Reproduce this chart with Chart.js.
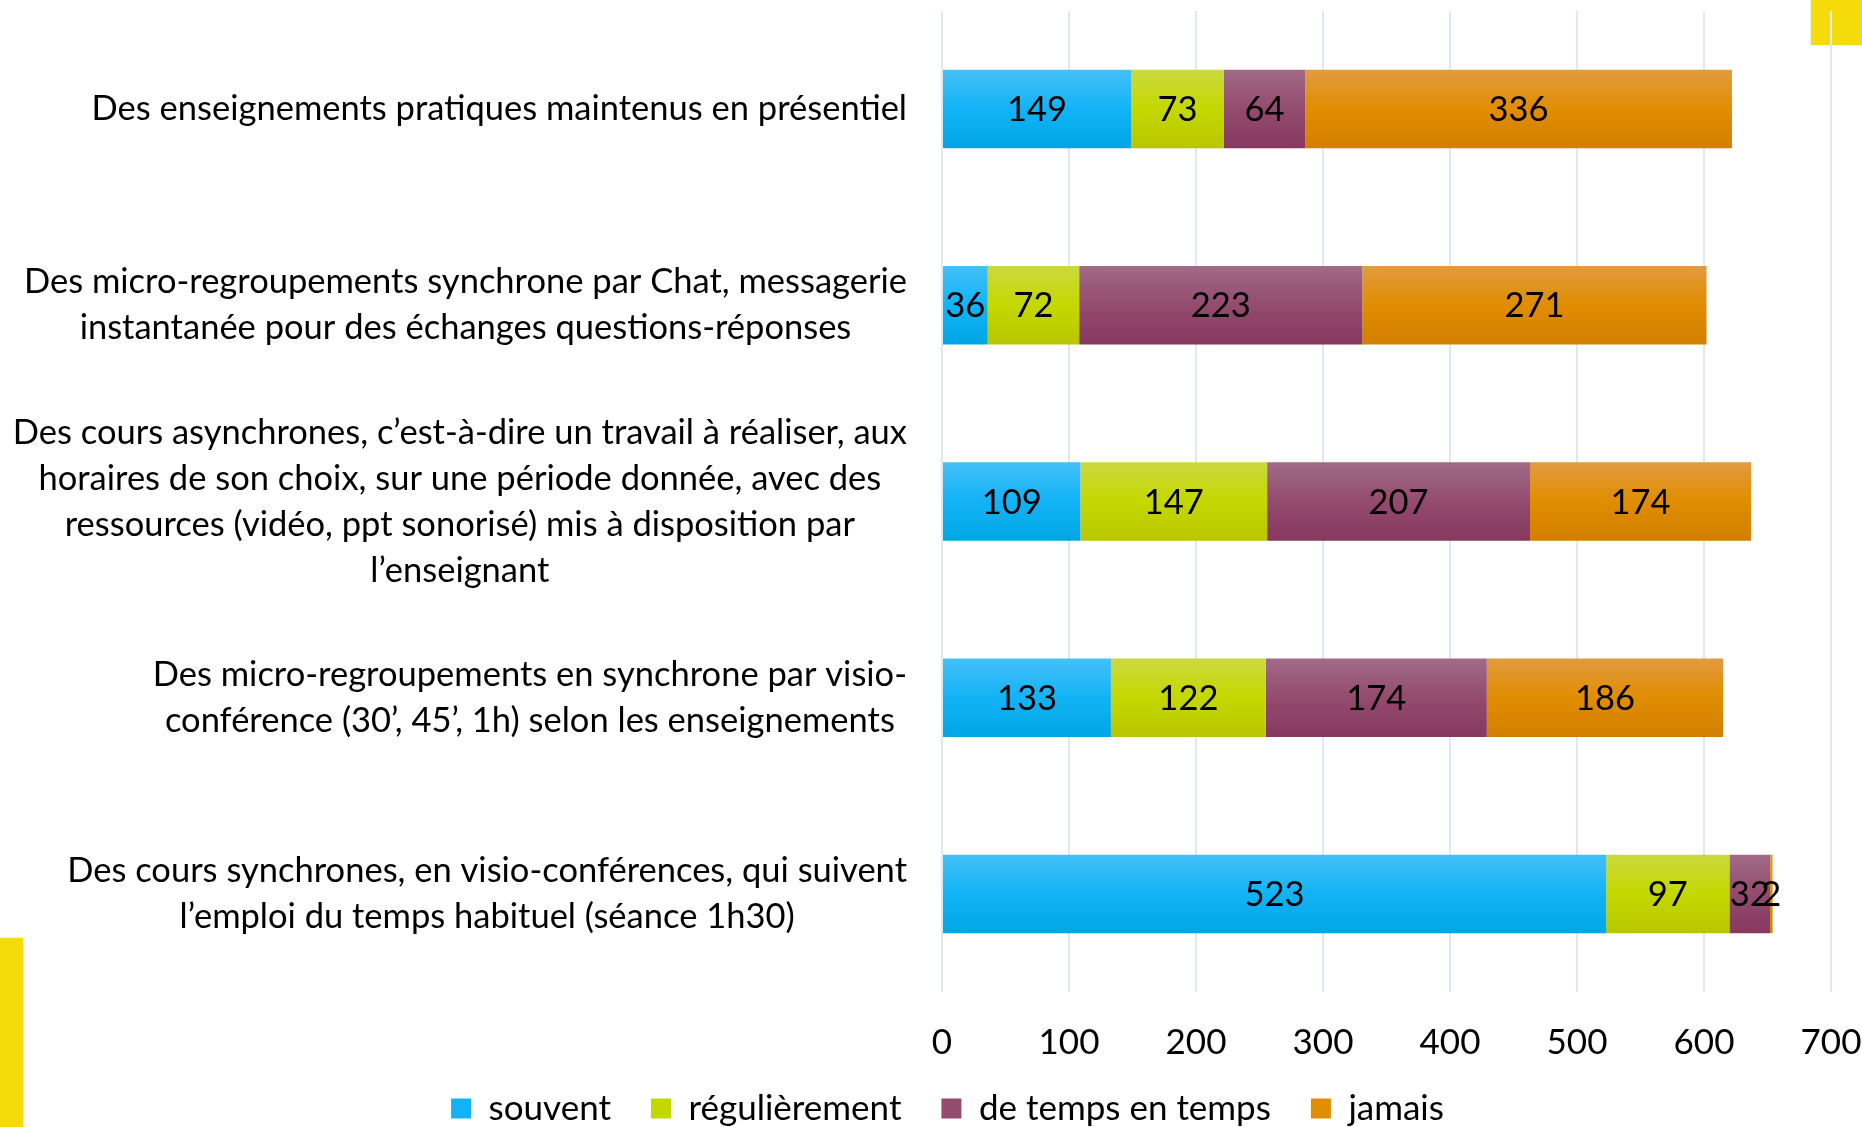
<!DOCTYPE html>
<html>
<head>
<meta charset="utf-8">
<script src="https://cdn.jsdelivr.net/npm/chart.js@4.4.1/dist/chart.umd.min.js"></script>
<style>
  html, body { margin: 0; padding: 0; background: #ffffff; }
  canvas { display: block; }
</style>
</head>
<body>
<canvas id="barChart" width="1862" height="1127"></canvas>
<script>
// category labels, one array of lines per bar
const categories = [
    ['Des enseignements pratiques maintenus en présentiel'],
    ['Des micro-regroupements synchrone par Chat, messagerie', 'instantanée pour des échanges questions-réponses'],
    ['Des cours asynchrones, c’est-à-dire un travail à réaliser, aux', 'horaires de son choix, sur une période donnée, avec des', 'ressources (vidéo, ppt sonorisé) mis à disposition par', 'l’enseignant'],
    ['Des micro-regroupements en synchrone par visio-', 'conférence (30’, 45’, 1h) selon les enseignements'],
    ['Des cours synchrones, en visio-conférences, qui suivent', 'l’emploi du temps habituel (séance 1h30)']
];

// series values
const souvent = [149, 36, 109, 133, 523];
const regulierement = [73, 72, 147, 122, 97];
const deTempsEnTemps = [64, 223, 207, 174, 32];
const jamais = [336, 271, 174, 186, 2];

// x axis
const xMin = 0;
const xMax = 700;
const xStep = 100;

const FONT = 'Lato, "Open Sans", sans-serif';
const BAR_PCT = 0.4;

// gradient stops for each series (top, middle, bottom)
const shades = [
    ['#45C0F8', '#12B3F6', '#00A6E4'],
    ['#CBD93E', '#C4D800', '#B8C600'],
    ['#A16B88', '#934B6E', '#873860'],
    ['#E29B40', '#E08D00', '#D27F00']
];

// vertical gradient for one bar, placed from the y scale
function barFill(context) {
    const di = context.datasetIndex;
    if (context.type !== 'data') return shades[di][1];
    const chart = context.chart;
    const yScale = chart.scales.y;
    if (!yScale || !chart.chartArea) return shades[di][1];
    const band = (yScale.bottom - yScale.top) / categories.length;
    const yc = yScale.getPixelForValue(context.dataIndex);
    const top = yc - band * BAR_PCT / 2;
    const g = chart.ctx.createLinearGradient(0, top, 0, top + band * BAR_PCT);
    g.addColorStop(0, shades[di][0]);
    g.addColorStop(0.5, shades[di][1]);
    g.addColorStop(1, shades[di][2]);
    return g;
}

// yellow corner blocks, value labels, category labels
const decorPlugin = {
    id: 'decor',
    afterLayout(chart) {
        // let the x tick labels hang below the (short) axis box without clipping
        chart.scales.x.bottom = chart.height;
    },
    beforeDraw(chart) {
        const ctx = chart.ctx;
        ctx.save();
        ctx.fillStyle = '#ffffff';
        ctx.fillRect(0, 0, chart.width, chart.height);
        ctx.shadowColor = 'rgba(0,0,0,0.15)';
        ctx.shadowBlur = 3;
        ctx.fillStyle = '#F6DB0A';
        ctx.fillRect(1811, -5, 60, 50);
        ctx.fillRect(-5, 938, 28, 200);
        ctx.restore();
    },
    afterDatasetsDraw(chart) {
        const ctx = chart.ctx;
        ctx.save();
        ctx.font = '34.5px ' + FONT;
        ctx.fillStyle = '#000000';
        ctx.textAlign = 'center';
        ctx.textBaseline = 'middle';
        chart.data.datasets.forEach((ds, di) => {
            const meta = chart.getDatasetMeta(di);
            meta.data.forEach((bar, i) => {
                ctx.fillText(String(ds.data[i]), (bar.x + bar.base) / 2, bar.y + 1);
            });
        });
        ctx.restore();
    },
    afterDraw(chart) {
        // block right-aligned to the plot, lines centred inside it
        const ctx = chart.ctx;
        const yScale = chart.scales.y;
        const right = chart.chartArea.left - 35;
        const lineHeight = 46;
        ctx.save();
        ctx.font = '34.5px ' + FONT;
        ctx.fillStyle = '#000000';
        ctx.textAlign = 'center';
        ctx.textBaseline = 'middle';
        categories.forEach((lines, i) => {
            const yc = yScale.getPixelForValue(i);
            const widest = Math.max(...lines.map(l => ctx.measureText(l).width));
            const cx = right - widest / 2;
            let y = yc - (lines.length - 1) * lineHeight / 2;
            lines.forEach(l => {
                ctx.fillText(l, cx, y);
                y += lineHeight;
            });
        });
        ctx.restore();
    }
};

new Chart(document.getElementById('barChart'), {
    type: 'bar',
    data: {
        labels: categories,
        datasets: [
            { label: 'souvent', data: souvent, backgroundColor: barFill },
            { label: 'régulièrement', data: regulierement, backgroundColor: barFill },
            { label: 'de temps en temps', data: deTempsEnTemps, backgroundColor: barFill },
            { label: 'jamais', data: jamais, backgroundColor: barFill }
        ]
    },
    options: {
        indexAxis: 'y',
        responsive: false,
        animation: false,
        devicePixelRatio: 1,
        categoryPercentage: 1,
        barPercentage: BAR_PCT,
        layout: {
            padding: { left: 64, right: 31, top: 11, bottom: -9 }
        },
        scales: {
            x: {
                stacked: true,
                min: xMin,
                max: xMax,
                ticks: {
                    stepSize: xStep,
                    color: '#000000',
                    font: { family: FONT, size: 35 },
                    padding: 30
                },
                grid: {
                    color: '#DCE8F4',
                    lineWidth: 2,
                    drawTicks: false
                },
                border: { display: false },
                afterFit(scale) {
                    scale.height = 59;
                    scale.paddingLeft = 0;
                    scale.paddingRight = 0;
                }
            },
            y: {
                stacked: true,
                ticks: { display: false },
                grid: { display: false },
                border: { display: false },
                afterFit(scale) { scale.width = 878; }
            }
        },
        plugins: {
            legend: {
                position: 'bottom',
                labels: {
                    color: '#000000',
                    font: { family: FONT, size: 35 },
                    boxWidth: 20,
                    boxHeight: 20,
                    padding: 40,
                    generateLabels(chart) {
                        return chart.data.datasets.map((ds, i) => ({
                            text: ds.label,
                            fillStyle: shades[i][1],
                            strokeStyle: shades[i][1],
                            lineWidth: 0,
                            fontColor: '#000000',
                            datasetIndex: i
                        }));
                    }
                }
            },
            tooltip: { enabled: false }
        }
    },
    plugins: [decorPlugin]
});
</script>
</body>
</html>
